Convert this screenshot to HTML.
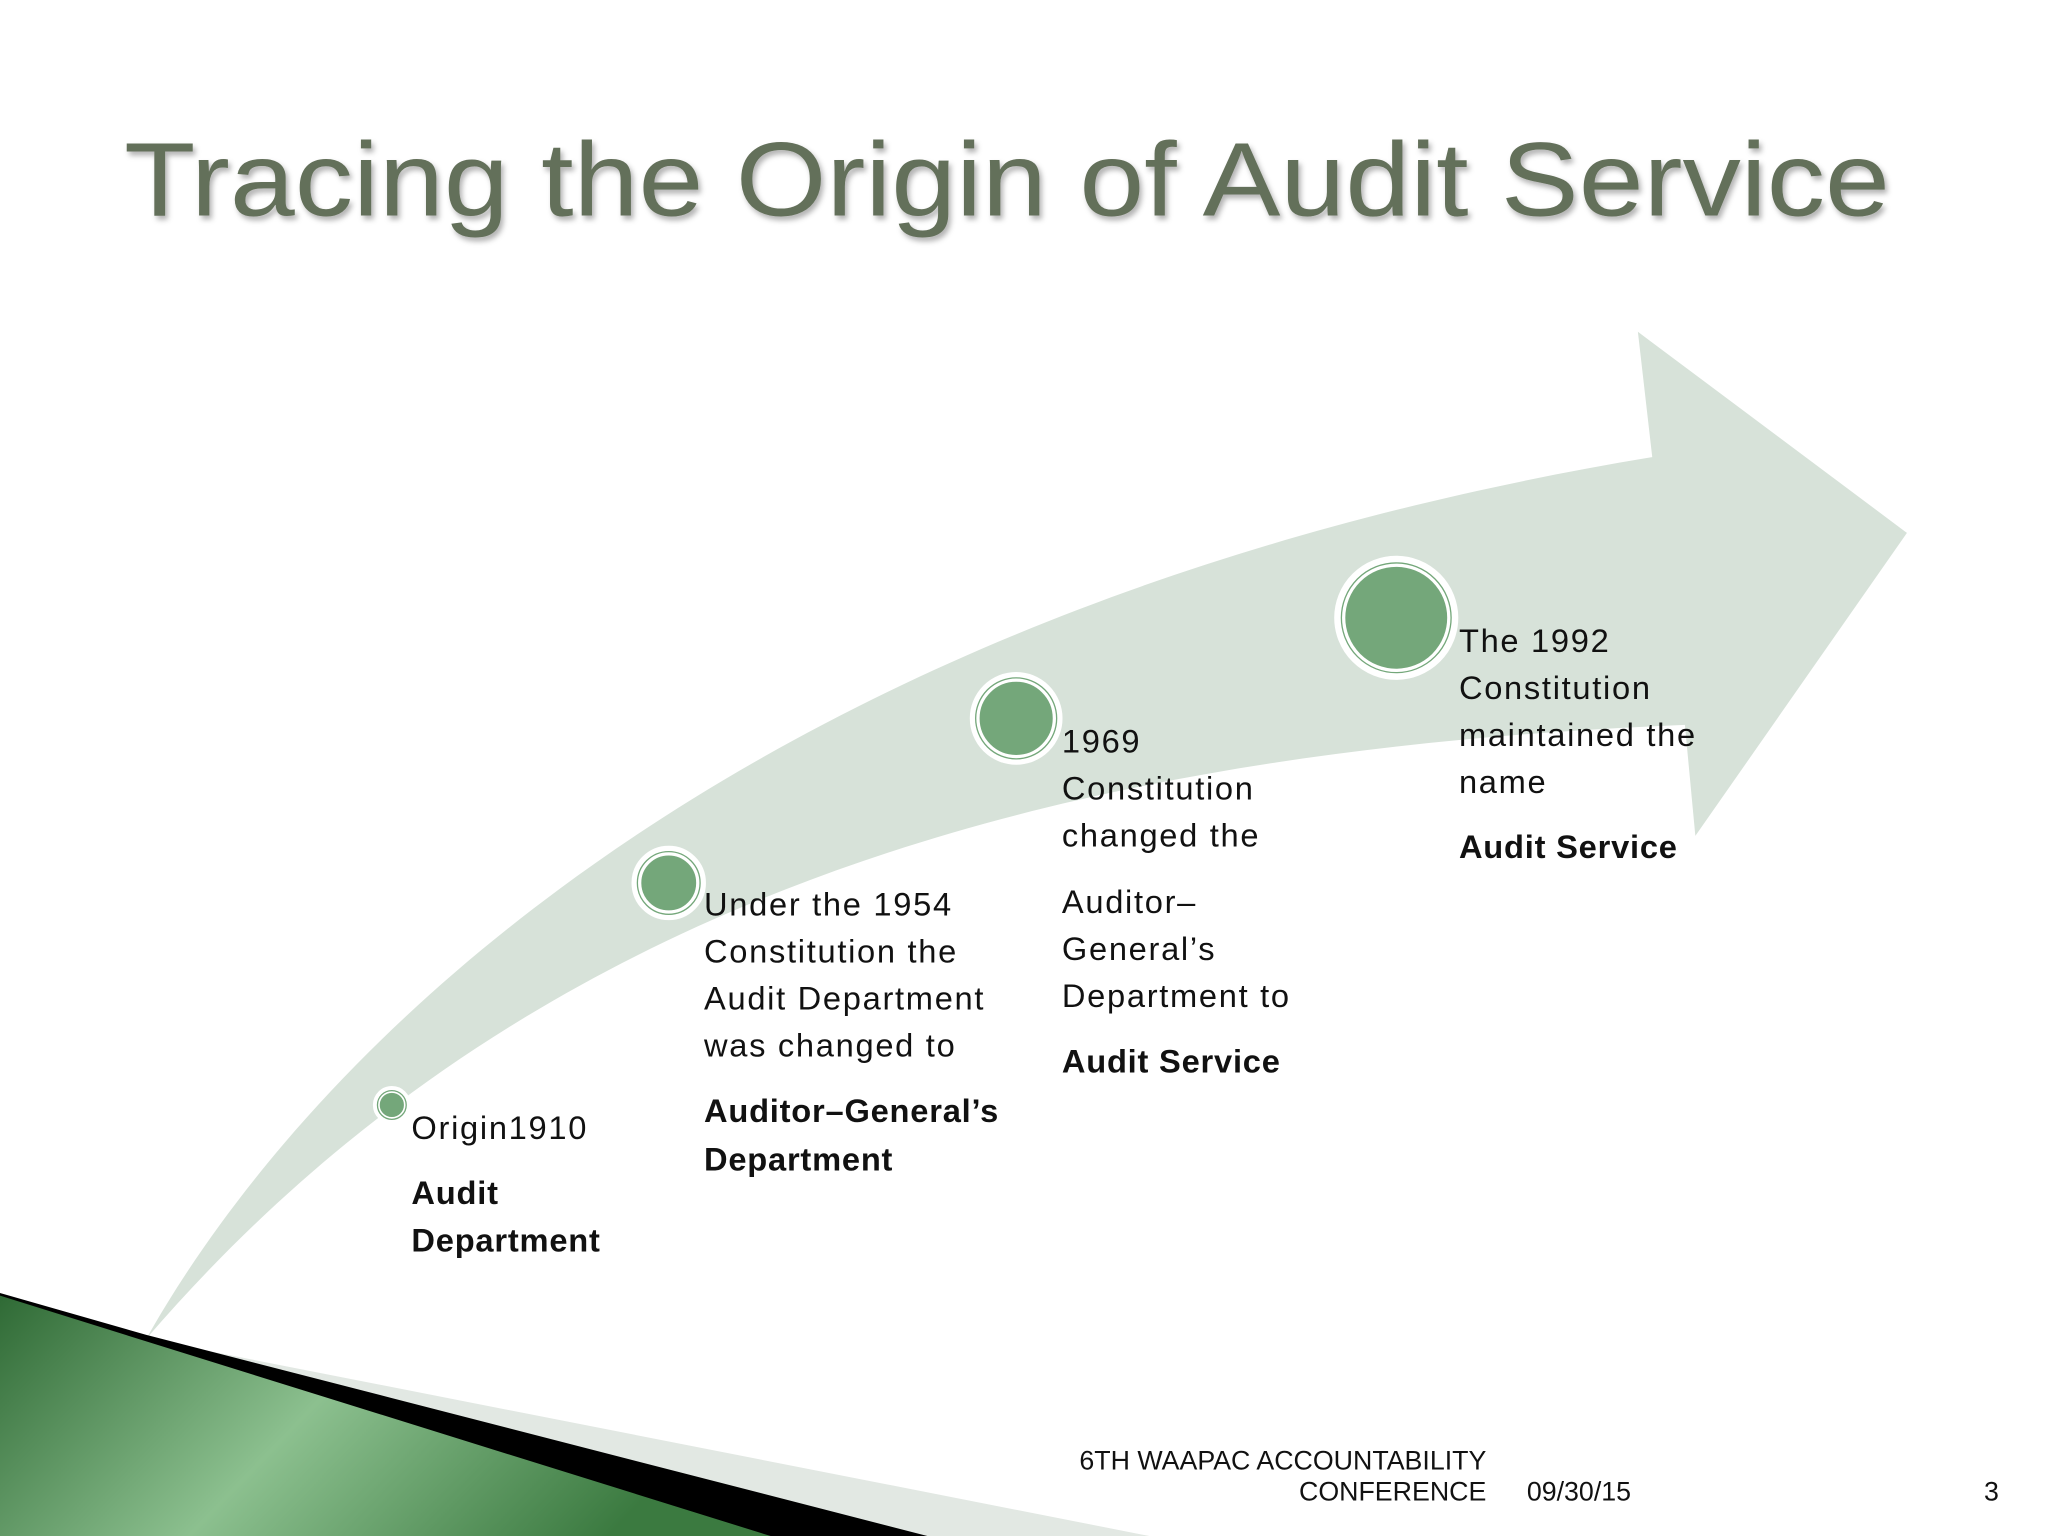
<!DOCTYPE html>
<html><head><meta charset="utf-8"><style>
html,body{margin:0;padding:0;background:#fff;}
svg{display:block;}
</style></head><body>
<svg width="2048" height="1536" viewBox="0 0 1568 1176" xmlns="http://www.w3.org/2000/svg">
<defs>
<linearGradient id="g" x1="0" y1="0" x2="1" y2="0.3">
<stop offset="0" stop-color="#2f6a35"/>
<stop offset="0.5" stop-color="#8cc08f"/>
<stop offset="1" stop-color="#3b7a40"/>
</linearGradient>
<filter id="sh"><feDropShadow dx="2" dy="3" stdDeviation="2" flood-color="#000" flood-opacity="0.3"/></filter>
</defs>
<rect width="1568" height="1176" fill="#fff"/>
<text x="95" y="165" font-family="Liberation Sans, sans-serif" font-size="80" fill="#646f5a" textLength="1352" lengthAdjust="spacingAndGlyphs" filter="url(#sh)">Tracing the Origin of Audit Service</text>
<path d="M112,1025 C250,780 600,460 1265,350 L1254,254 L1460,408 L1298,640 L1290,555 C800,575 400,690 112,1025 Z" fill="#d7e2d9"/>
<g fill="#74a77a" stroke="#fff">
<circle cx="300" cy="846" r="14" fill="#fff"/><circle cx="300" cy="846" r="10" stroke-width="1.5"/><circle cx="300" cy="846" r="11" fill="none" stroke="#74a77a" stroke-width="1"/>
<circle cx="512" cy="676" r="28" fill="#fff"/><circle cx="512" cy="676" r="22" stroke-width="2"/><circle cx="512" cy="676" r="24" fill="none" stroke="#74a77a" stroke-width="1"/>
<circle cx="778" cy="550" r="35" fill="#fff"/><circle cx="778" cy="550" r="29" stroke-width="2"/><circle cx="778" cy="550" r="31" fill="none" stroke="#74a77a" stroke-width="1"/>
<circle cx="1069" cy="473" r="47" fill="#fff"/><circle cx="1069" cy="473" r="40" stroke-width="2"/><circle cx="1069" cy="473" r="42" fill="none" stroke="#74a77a" stroke-width="1"/>
</g>
<g font-family="Liberation Sans, sans-serif" font-size="25" fill="#111" letter-spacing="1.3">
<text x="315" y="872">Origin1910</text>
<text x="539" y="701">Under the 1954</text>
<text x="539" y="737">Constitution the</text>
<text x="539" y="773">Audit Department</text>
<text x="539" y="809">was changed to</text>
<text x="813" y="576">1969</text>
<text x="813" y="612">Constitution</text>
<text x="813" y="648">changed the</text>
<text x="813" y="699">Auditor–</text>
<text x="813" y="735">General’s</text>
<text x="813" y="771">Department to</text>
<text x="1117" y="499">The 1992</text>
<text x="1117" y="535">Constitution</text>
<text x="1117" y="571">maintained the</text>
<text x="1117" y="607">name</text>
</g>
<g font-family="Liberation Sans, sans-serif" font-size="25" fill="#111" font-weight="bold" letter-spacing="0.6">
<text x="315" y="922">Audit</text>
<text x="315" y="958">Department</text>
<text x="539" y="859">Auditor–General’s</text>
<text x="539" y="896">Department</text>
<text x="813" y="821">Audit Service</text>
<text x="1117" y="657">Audit Service</text>
</g>
<polygon points="112,1025 880,1176 700,1176" fill="#e2e8e3"/>
<polygon points="0,990 112,1022 710,1176 0,1176" fill="#000"/>
<polygon points="0,992 112,1027 590,1176 0,1176" fill="url(#g)"/>
<g font-family="Liberation Sans, sans-serif" font-size="20.5" fill="#111">
<text x="1138" y="1125" text-anchor="end">6TH  WAAPAC ACCOUNTABILITY</text>
<text x="1138" y="1149" text-anchor="end">CONFERENCE</text>
<text x="1169" y="1149">09/30/15</text>
<text x="1519" y="1149">3</text>
</g>
</svg>
</body></html>
